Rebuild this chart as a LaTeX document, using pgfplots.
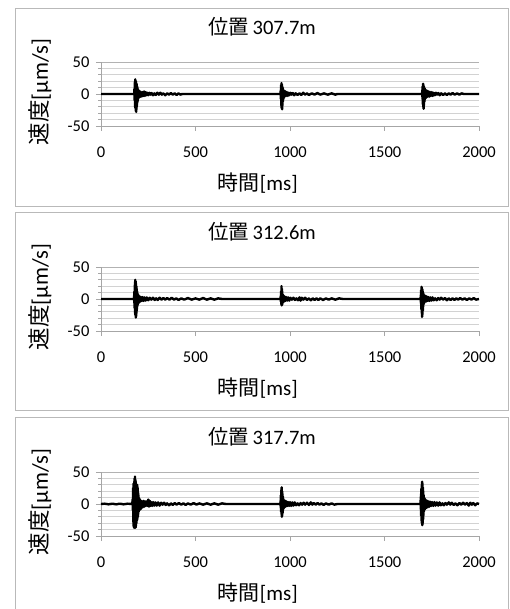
\documentclass[border=0pt]{standalone}
\usepackage{pgfplots}
\pgfplotsset{compat=1.18}
\usepackage{fontspec}
\setmainfont{Carlito}
\newfontfamily\cjk{Noto Sans CJK JP}

\pgfplotsset{
  panel/.style={
    scale only axis,
    width=378pt, height=64pt,
    xmin=0, xmax=2000, ymin=-50, ymax=50,
    xtick={0,500,...,2000},
    ytick={-50,0,50},
    minor ytick={-40,-30,-20,-10,10,20,30,40},
    ymajorgrids, yminorgrids,
    major grid style={gray!60, line width=0.8pt},
    minor grid style={gray!35, line width=0.8pt},
    axis lines*=left,
    axis line style={gray!70, line width=0.8pt, -},
    tick align=outside,
    major tick length=5pt,
    tick style={gray!70, line width=0.8pt},
    /pgf/number format/assume math mode=true,
    /pgf/number format/1000 sep={},
    tick label style={font=\fontsize{16.5}{16.5}\selectfont},
    xticklabel style={yshift=-12pt},
    yticklabel style={xshift=-3pt},
    title style={font=\fontsize{20.5}{20.5}\selectfont, at={(axis description cs:0.426,1.453)}, anchor=center},
    xlabel style={font=\fontsize{21}{21}\selectfont, at={(axis description cs:0.415,-0.89)}, anchor=center},
    ylabel style={font=\fontsize{22.5}{22.5}\selectfont, at={(axis description cs:-0.161,0.53)}, anchor=center, rotate=0},
    xlabel={{\cjk 時間}[ms]},
    ylabel={{\cjk 速度}[μm/s]},
    clip=false,
  },
  sig/.style={black, line width=2.4pt, line join=round, no marks},
}

\begin{document}
\begin{tikzpicture}
\path[use as bounding box] (0,0) rectangle (509pt,-609pt);
\begin{scope}
\clip (0,0) rectangle (509pt,-609pt);
\draw[gray!55, line width=1pt] (15pt,-8.5pt) rectangle (508.5pt,-206.5pt);
\draw[gray!55, line width=1pt] (15pt,-213pt) rectangle (508.5pt,-410pt);
\draw[gray!55, line width=1pt] (15pt,-417.5pt) rectangle (508.5pt,-640pt);
\end{scope}

% panel 1
\begin{axis}[panel, at={(101pt,-126pt)}, anchor=south west,
  title={{\cjk 位置}\,307.7m}]
\addplot[sig] coordinates {
(0,0)(100,0)(176,0)
(177,8)(178,-10)(179,18)(180,-20)(181,23)(182,-22)(183,21)(184,-26)(185,20)(186,-28)(187,17)(188,-24)(189,15)(190,-18)(191,12)(192,-14)(193,10)(194,-11)(195,8)(196,-8)(198,6)(200,-6)(202,5)(204,-5)(207,4)(210,-4)(213,3)(216,-4)(220,3)(224,-3)(228,4)(232,-3)(236,3)(240,-2)(245,2)(250,-2)
(256,2)(262,-1)(268,1.5)(275,-2)(282,1)(290,-1.5)(298,2)(306,-1)(314,2)(322,-1)(330,1)(340,-2)(350,1)(360,-1)(370,1.5)(380,-1)(390,1)(400,-1.5)(410,1)(420,-1)(430,0)(950,0)
(951,6)(952,-8)(953,14)(954,-18)(955,17)(956,-22)(957,15)(958,-24)(959,12)(960,-18)(961,10)(962,-12)(963,8)(964,-9)(966,6)(968,-6)(970,5)(973,-4)(976,4)(980,-3)(984,3)(988,-3)(992,2)(996,-2)(1002,2)(1008,-1)(1015,1.5)(1022,-2)(1030,1)(1040,-1.5)(1050,1)(1060,-1.5)(1070,2)(1080,-1)(1090,1)(1100,-1.5)(1115,1)(1130,-1)(1145,1.5)(1160,-1)(1180,1)(1200,-1)(1220,1)(1240,-1)(1250,0)(1699,0)
(1700,6)(1701,-8)(1702,12)(1703,-16)(1704,16)(1705,-20)(1706,14)(1707,-23)(1708,12)(1709,-18)(1710,10)(1711,-12)(1712,9)(1713,-9)(1715,7)(1717,-7)(1720,6)(1723,-5)(1726,5)(1730,-4)(1734,4)(1738,-4)(1742,3)(1746,-3)(1750,3)(1755,-3)(1760,2)(1766,-2)(1772,2)(1778,-1)(1785,1.5)(1792,-2)(1800,1)(1810,-1.5)(1820,1)(1830,-1.5)(1840,1)(1850,-1)(1860,1.5)(1872,-1)(1884,1)(1896,-1)(1908,1)(1920,0)(2000,0)
};
\end{axis}

% panel 2
\begin{axis}[panel, at={(101pt,-331pt)}, anchor=south west,
  title={{\cjk 位置}\,312.6m}]
\addplot[sig] coordinates {
(0,0)(100,0)(174,0)
(175,5)(176,-6)(177,12)(178,-14)(179,22)(180,-22)(181,30)(182,-25)(183,28)(184,-29)(185,24)(186,-27)(187,20)(188,-22)(189,16)(190,-16)(191,12)(192,-12)(193,9)(194,-9)(196,7)(198,-7)(200,5)(202,-5)(205,4)(208,-4)(212,3)(216,-3)(220,3)(225,-3)(230,2.5)(236,-2.5)(242,2.5)(250,-2)(258,2)(266,-1)(275,2)(284,-1.5)(292,1)(300,-1.5)(310,2)(320,-1)(330,1.5)(340,-1)(350,1.5)(362,-1)(374,2)(386,-1)(398,1)(410,-1.5)(425,1)(440,-1)(460,1.5)(480,-1)(500,1)(520,-1)(540,1.5)(560,-1)(580,1)(600,-1)(620,1)(640,0)(950,0)
(951,5)(952,-4)(953,12)(954,-8)(955,20)(956,-10)(957,16)(958,-9)(959,12)(960,-7)(962,7)(964,-5)(966,5)(969,-4)(972,4)(976,-3)(980,3)(985,-2.5)(990,2.5)(996,-2.5)(1002,2)(1010,-1)(1018,2)(1026,-1.5)(1034,1)(1042,-2)(1050,2.5)(1056,-2.5)(1062,2)(1070,-1)(1080,2)(1090,-1.5)(1100,1)(1110,-2)(1120,1)(1130,-1.5)(1140,1)(1150,-1.5)(1160,1)(1175,-1.5)(1190,1)(1205,-1)(1220,1)(1240,-1)(1260,1)(1280,0)(1691,0)
(1692,6)(1693,-8)(1694,14)(1695,-16)(1696,19)(1697,-22)(1698,17)(1699,-28)(1700,15)(1701,-24)(1702,12)(1703,-18)(1704,10)(1705,-12)(1706,8)(1708,-8)(1710,6)(1713,-5)(1716,5)(1720,-4)(1724,4)(1728,-3)(1732,3)(1737,-3)(1742,2.5)(1748,-2.5)(1754,2.5)(1760,-2)(1768,1)(1776,-2)(1784,1.5)(1792,-1)(1800,2)(1810,-1)(1820,1.5)(1830,-2)(1840,1)(1850,-1.5)(1860,1)(1870,-1.5)(1880,1)(1890,-1)(1900,1.5)(1912,-1)(1924,1)(1936,-1.5)(1948,1)(1960,-1)(1972,1.5)(1984,-1)(2000,0)
};
\end{axis}

% panel 3
\begin{axis}[panel, at={(101pt,-536pt)}, anchor=south west,
  title={{\cjk 位置}\,317.7m}]
\addplot[sig] coordinates {
(0,0)(20,0.5)(40,-0.5)(60,0.5)(80,-0.5)(100,0.5)(120,-0.5)(140,0.5)(165,0)
(168,8)(169,-10)(170,25)(171,-28)(172,32)(173,-35)(174,30)(175,-37)(176,35)(177,-36)(178,40)(179,-37)(180,43)(181,-35)(182,38)(183,-37)(184,35)(185,-34)(186,30)(187,-30)(188,26)(189,-26)(190,28)(191,-25)(192,30)(193,-22)(194,25)(195,-20)(196,18)(197,-16)(198,14)(199,-12)(200,10)(202,-10)(204,8)(206,-9)(208,6)(210,-8)(213,5)(216,-6)(219,4)(222,-5)(226,5)(230,-4)(234,4)(238,-3)(242,4)(246,-3)(250,7)(254,-4)(258,5)(262,-3)(266,3)(271,-3)(276,3)(282,-2.5)(288,2.5)(295,-2.5)(302,2.5)(310,-2.5)(318,2)(326,-1)(334,2)(342,-1.5)(350,1)(360,-2)(370,1)(380,-1.5)(390,1.5)(400,-1)(412,1.5)(424,-1)(436,1)(448,-1.5)(460,1)(475,-1)(490,1.5)(505,-1)(520,1)(540,-1)(560,1)(580,-1)(600,1)(620,-1)(640,1)(660,0)(949,0)
(950,5)(951,-6)(952,14)(953,-12)(954,22)(955,-16)(956,26)(957,-20)(958,20)(959,-18)(960,16)(961,-14)(962,12)(963,-10)(965,8)(967,-7)(969,6)(972,-5)(975,5)(978,-4)(982,4)(986,-3)(990,3)(995,-3)(1000,3)(1006,-3)(1012,2.5)(1018,-2.5)(1025,2.5)(1032,-2)(1040,1)(1048,-2)(1056,1.5)(1064,-1)(1072,2)(1080,-1)(1090,2)(1100,-1.5)(1110,2.5)(1118,-1)(1126,1.5)(1136,-1)(1146,1.5)(1156,-1)(1166,1)(1178,-1.5)(1190,1)(1205,-1)(1220,1)(1235,-1)(1250,0)(1690,0)
(1691,6)(1692,-8)(1693,16)(1694,-18)(1695,24)(1696,-26)(1697,30)(1698,-30)(1699,35)(1700,-33)(1701,32)(1702,-30)(1703,26)(1704,-24)(1705,20)(1706,-18)(1707,14)(1708,-12)(1710,10)(1712,-9)(1714,8)(1717,-7)(1720,6)(1723,-6)(1726,5)(1730,-5)(1734,4)(1738,-4)(1742,3.5)(1747,-3)(1752,3)(1758,-3)(1764,3)(1770,-2.5)(1777,2.5)(1784,-2.5)(1791,2.5)(1798,-2)(1806,1)(1814,-2)(1822,1.5)(1830,-1)(1840,2.5)(1848,-1)(1856,2)(1866,-1.5)(1876,1)(1886,-2)(1896,1.5)(1906,-1)(1916,2)(1926,-1)(1936,1.5)(1946,-2.5)(1954,2)(1962,-1)(1970,1.5)(1980,-2)(1990,1)(2000,0)
};
\end{axis}
\end{tikzpicture}
\end{document}
